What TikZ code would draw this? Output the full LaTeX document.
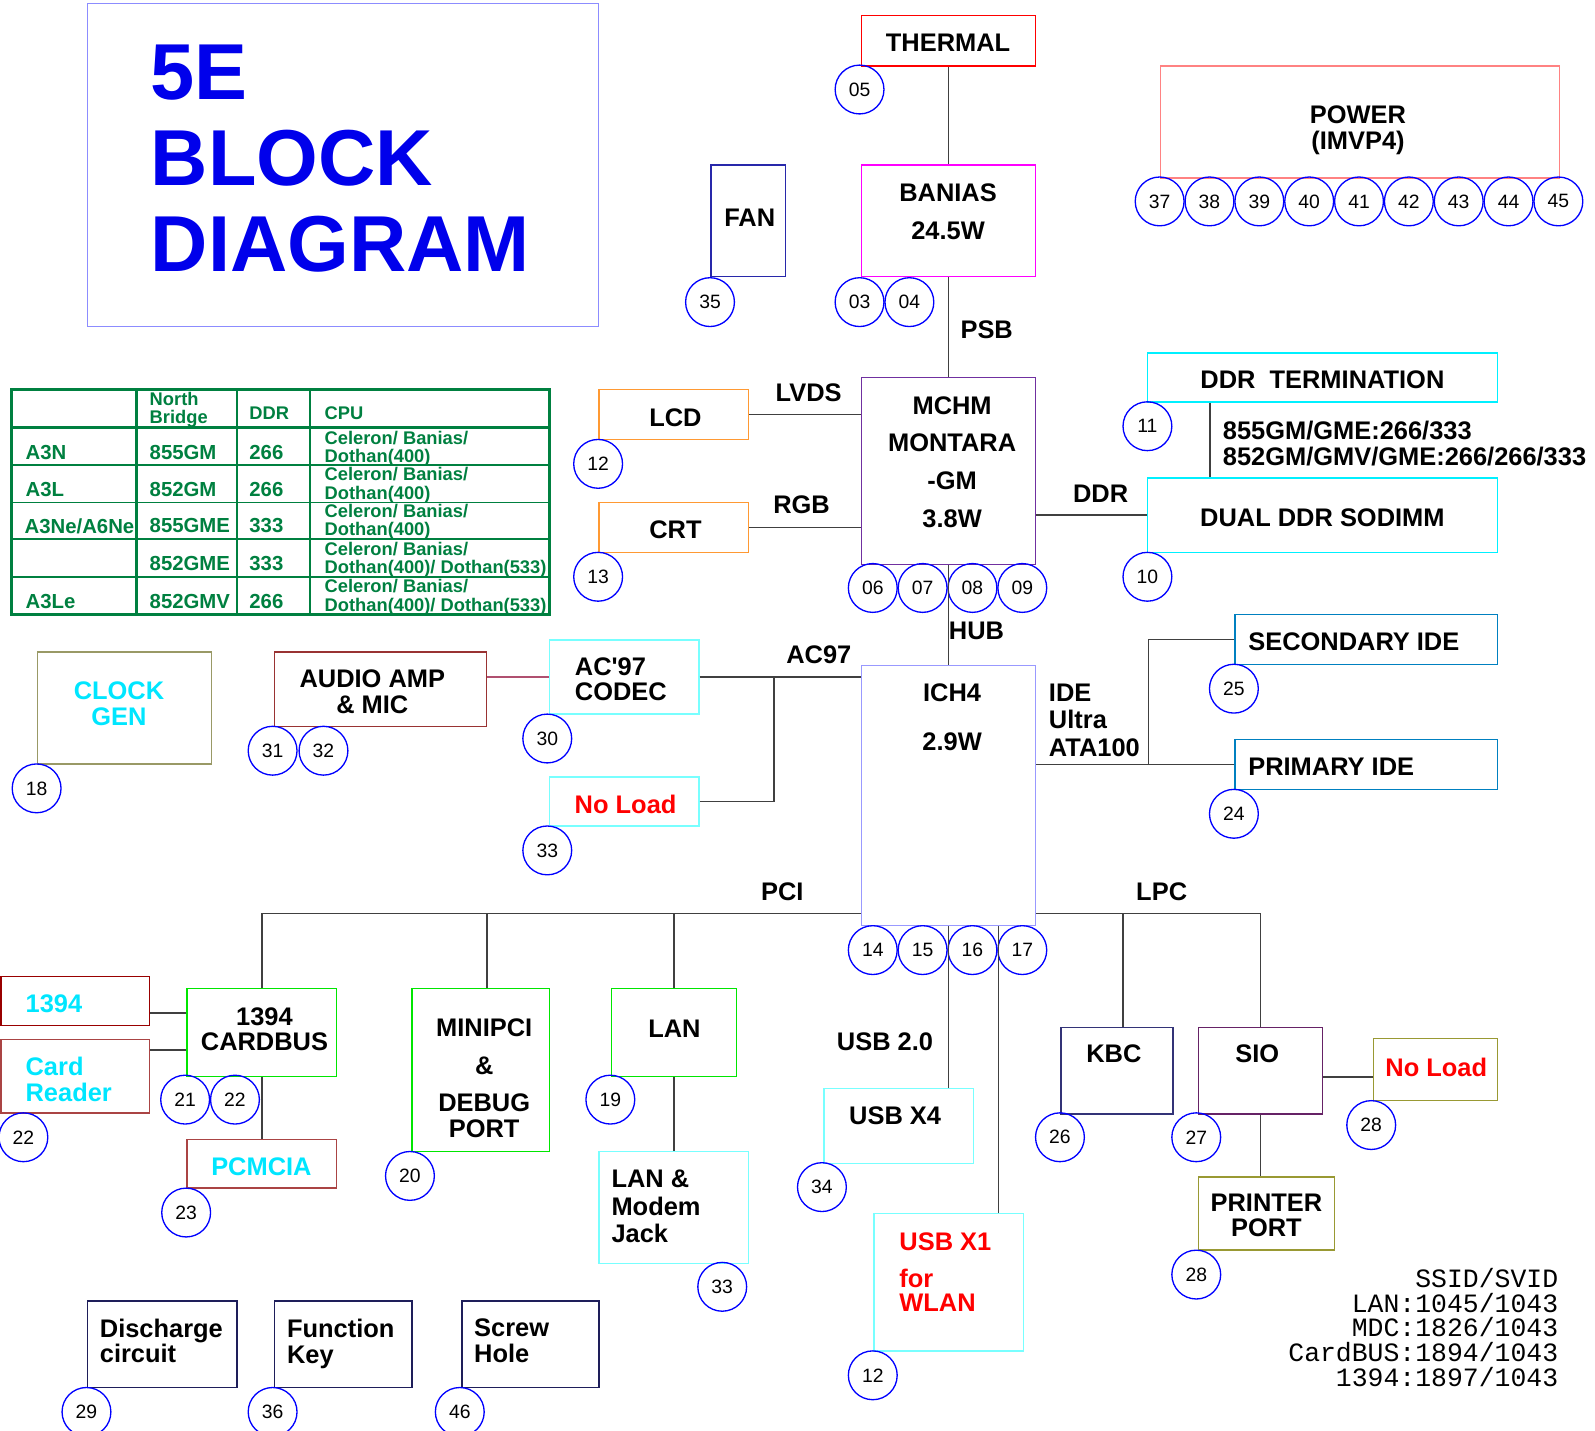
\documentclass[tikz,border=0pt]{standalone}
\usepackage{fontspec}
\setmainfont{Liberation Sans}
\setmonofont{Liberation Mono}
\usetikzlibrary{fit}

\definecolor{ttlblue}{RGB}{0,0,235}
\definecolor{ttlframe}{RGB}{140,140,255}
\definecolor{pgblue}{RGB}{0,0,255}
\definecolor{wiregray}{RGB}{64,64,64}
\definecolor{tabgreen}{RGB}{0,128,64}
\definecolor{thermred}{RGB}{255,0,0}
\definecolor{baniasmag}{RGB}{255,0,255}
\definecolor{fanblue}{RGB}{40,40,170}
\definecolor{powerpink}{RGB}{255,130,130}
\definecolor{vidorange}{RGB}{255,153,51}
\definecolor{mchpurple}{RGB}{112,48,160}
\definecolor{ddrcyan}{RGB}{0,240,255}
\definecolor{lightcyan}{RGB}{120,255,255}
\definecolor{ideblue}{RGB}{0,128,192}
\definecolor{ichlav}{RGB}{153,153,255}
\definecolor{clkolive}{RGB}{153,153,102}
\definecolor{audred}{RGB}{153,51,51}
\definecolor{audwire}{RGB}{176,80,112}
\definecolor{darkred}{RGB}{153,0,0}
\definecolor{rustred}{RGB}{170,68,68}
\definecolor{pcigreen}{RGB}{0,230,0}
\definecolor{kbcnavy}{RGB}{51,51,119}
\definecolor{siopurple}{RGB}{102,34,102}
\definecolor{nlolive}{RGB}{153,153,51}
\definecolor{navybox}{RGB}{30,30,90}
\definecolor{txtcyan}{RGB}{0,230,255}
\definecolor{txtred}{RGB}{255,0,0}

\tikzset{
  blk/.style={draw=#1, line width=1.4pt, inner sep=0pt},
  pg/.style={circle, draw=pgblue, line width=1.3pt, minimum size=48pt, inner sep=0pt, font=\fontsize{19}{19}\selectfont},
  lbl/.style={inner sep=0pt, align=center, font=\bfseries\fontsize{25}{#1}\selectfont},
  lbl/.default=25,
  wire/.style={draw=wiregray, line width=1.5pt},
  tab/.style={inner sep=0pt, anchor=west, align=left, text=tabgreen, font=\bfseries\fontsize{20}{20}\selectfont},
  cpu/.style={tab, font=\bfseries\fontsize{18}{18}\selectfont},
}

\begin{document}
\begin{tikzpicture}[x=1pt,y=-1pt]
\useasboundingbox (0,0) rectangle (1568,1406);

% title
\node[blk=ttlframe, line width=1pt, fit={(86,3) (588,321)}] (title) {};
\node[inner sep=0pt, anchor=west, align=left, text=ttlblue, font=\bfseries\fontsize{78}{84.5}\selectfont] (t-title) at (148,156) {5E\\BLOCK\\DIAGRAM};

% cpu
\node[blk=thermred, fit={(847,15) (1018,65)}] (thermal) {};
\node[lbl] (t-thermal) at (932,42) {THERMAL};
\node[pg] (p05) at (845,88) {05};
\node[blk=baniasmag, fit={(847,162) (1018,272)}] (banias) {};
\node[lbl=37] (t-banias) at (932,208) {BANIAS\\24.5W};
\node[pg] (p03) at (845,297) {03};
\node[pg] (p04) at (894,297) {04};
\node[blk=fanblue, fit={(699,162) (772,272)}] (fan) {};
\node[lbl] (t-fan) at (737,214) {FAN};
\node[pg] (p35) at (698,297) {35};
\node[lbl] (t-psb) at (970,324) {PSB};

% power
\node[blk=powerpink, fit={(1141,65) (1533,175)}] (power) {};
\node[lbl] (t-power) at (1335,128) {POWER\\(IMVP4)};
\node[pg] (p37) at (1140,198) {37};
\node[pg] (p38) at (1189,198) {38};
\node[pg] (p39) at (1238,198) {39};
\node[pg] (p40) at (1287,198) {40};
\node[pg] (p41) at (1336,198) {41};
\node[pg] (p42) at (1385,198) {42};
\node[pg] (p43) at (1434,198) {43};
\node[pg] (p44) at (1483,198) {44};
\node[pg] (p45) at (1532,198) {45};

% model table
\draw[draw=tabgreen, line width=3pt] (11,383) rectangle (540,604);
\draw[draw=tabgreen, line width=3pt] (11,420) -- (540,420) (134,383) -- (134,604);
\draw[draw=tabgreen, line width=1.5pt] (233,383) -- (233,604) (305,383) -- (305,604)
  (11,457) -- (540,457) (11,494) -- (540,494) (11,530) -- (540,530) (11,567) -- (540,567);
\node[cpu] (h-nb) at (147,403) {North\\Bridge};
\node[cpu] (h-ddr) at (245,406) {DDR};
\node[cpu] (h-cpu) at (319,406) {CPU};
\node[tab] (r1a) at (25,445) {A3N};
\node[tab] (r1b) at (147,445) {855GM};
\node[tab] (r1c) at (245,445) {266};
\node[cpu] (r1d) at (319,441) {Celeron/ Banias/\\Dothan(400)};
\node[tab] (r2a) at (25,481) {A3L};
\node[tab] (r2b) at (147,481) {852GM};
\node[tab] (r2c) at (245,481) {266};
\node[cpu] (r2d) at (319,477) {Celeron/ Banias/\\Dothan(400)};
\node[tab] (r3a) at (24,517) {A3Ne/A6Ne};
\node[tab] (r3b) at (147,517) {855GME};
\node[tab] (r3c) at (245,517) {333};
\node[cpu] (r3d) at (319,513) {Celeron/ Banias/\\Dothan(400)};
\node[tab] (r4b) at (147,554) {852GME};
\node[tab] (r4c) at (245,554) {333};
\node[cpu] (r4d) at (319,550) {Celeron/ Banias/\\Dothan(400)/ Dothan(533)};
\node[tab] (r5a) at (25,591) {A3Le};
\node[tab] (r5b) at (147,591) {852GMV};
\node[tab] (r5c) at (245,591) {266};
\node[cpu] (r5d) at (319,587) {Celeron/ Banias/\\Dothan(400)/ Dothan(533)};

% north bridge
\node[blk=vidorange, fit={(589,383) (736,432)}] (lcd) {};
\node[lbl] (t-lcd) at (664,411) {LCD};
\node[pg] (p12) at (588,456) {12};
\node[blk=vidorange, fit={(589,494) (736,543)}] (crt) {};
\node[lbl] (t-crt) at (664,521) {CRT};
\node[pg] (p13) at (588,567) {13};
\node[lbl] (t-lvds) at (795,386) {LVDS};
\node[lbl] (t-rgb) at (788,496) {RGB};
\node[blk=mchpurple, fit={(847,371) (1018,555)}] (mchm) {};
\node[lbl=37] (t-mchm) at (936,454) {MCHM\\MONTARA\\-GM\\3.8W};
\node[pg] (p06) at (858,578) {06};
\node[pg] (p07) at (907,578) {07};
\node[pg] (p08) at (956,578) {08};
\node[pg] (p09) at (1005,578) {09};
\node[lbl] (t-hub) at (960,620) {HUB};
\node[lbl] (t-ddr) at (1082,485) {DDR};

% memory
\node[blk=ddrcyan, fit={(1128,347) (1472,395)}] (ddrterm) {};
\node[lbl] (t-ddrterm) at (1300,373) {DDR\ \ TERMINATION};
\node[pg] (p11) at (1128,419) {11};
\node[lbl, align=left, anchor=west] (t-speed) at (1202,436) {855GM/GME:266/333\\852GM/GMV/GME:266/266/333};
\node[blk=ddrcyan, fit={(1128,470) (1472,543)}] (sodimm) {};
\node[lbl] (t-sodimm) at (1300,509) {DUAL DDR SODIMM};
\node[pg] (p10) at (1128,567) {10};

% clock and audio
\node[blk=clkolive, fit={(37,641) (208,751)}] (clock) {};
\node[lbl, text=txtcyan] (t-clock) at (117,692) {CLOCK\\GEN};
\node[pg] (p18) at (36,775) {18};
\node[blk=audred, fit={(270,641) (478,714)}] (audio) {};
\node[lbl] (t-audio) at (366,680) {AUDIO AMP\\\& MIC};
\node[pg] (p31) at (268,738) {31};
\node[pg] (p32) at (318,738) {32};
\node[blk=lightcyan, fit={(540,629) (687,702)}] (codec) {};
\node[lbl, align=left, anchor=west] (t-codec) at (565,668) {AC\textquotesingle97\\CODEC};
\node[pg] (p30) at (538,726) {30};
\node[blk=lightcyan, fit={(540,764) (687,812)}] (noload1) {};
\node[lbl, text=txtred] (t-noload1) at (615,791) {No Load};
\node[pg] (p33) at (538,836) {33};
\node[lbl] (t-ac97) at (805,644) {AC97};

% south bridge
\node[blk=ichlav, fit={(847,654) (1018,910)}] (ich4) {};
\node[lbl=48] (t-ich4) at (936,705) {ICH4\\2.9W};
\node[pg] (p14) at (858,934) {14};
\node[pg] (p15) at (907,934) {15};
\node[pg] (p16) at (956,934) {16};
\node[pg] (p17) at (1005,934) {17};
\node[lbl=27, align=left, anchor=west] (t-ide) at (1031,708) {IDE\\Ultra\\ATA100};
\node[blk=ideblue, fit={(1214,604) (1472,653)}] (secondary) {};
\node[lbl, anchor=west] (t-secondary) at (1227,631) {SECONDARY IDE};
\node[pg] (p25) at (1213,677) {25};
\node[blk=ideblue, fit={(1214,727) (1472,776)}] (primary) {};
\node[lbl, anchor=west] (t-primary) at (1227,754) {PRIMARY IDE};
\node[pg] (p24) at (1213,800) {24};
\node[lbl] (t-pci) at (769,877) {PCI};
\node[lbl] (t-lpc) at (1142,877) {LPC};
\node[lbl] (t-usb) at (870,1024) {USB 2.0};

% pci devices
\node[blk=darkred, fit={(1,960) (147,1008)}] (ieee) {};
\node[lbl, text=txtcyan, anchor=west] (t-ieee) at (25,987) {1394};
\node[blk=rustred, fit={(1,1022) (147,1094)}] (cardrd) {};
\node[lbl, text=txtcyan, align=left, anchor=west] (t-cardrd) at (25,1061) {Card\\Reader};
\node[pg] (p22b) at (23,1118) {22};
\node[blk=pcigreen, fit={(184,972) (331,1058)}] (cardbus) {};
\node[lbl=24] (t-cardbus) at (260,1012) {1394\\CARDBUS};
\node[pg] (p21) at (182,1081) {21};
\node[pg] (p22) at (231,1081) {22};
\node[blk=rustred, fit={(184,1120) (331,1168)}] (pcmcia) {};
\node[lbl, text=txtcyan] (t-pcmcia) at (257,1147) {PCMCIA};
\node[pg] (p23) at (183,1192) {23};
\node[blk=pcigreen, fit={(405,972) (540,1132)}] (minipci) {};
\node[lbl] (t-minipci) at (476,1060) {MINIPCI\\[12pt]\&\\[12pt]DEBUG\\PORT};
\node[pg] (p20) at (403,1156) {20};
\node[blk=pcigreen, fit={(601,972) (724,1058)}] (lan) {};
\node[lbl] (t-lan) at (663,1011) {LAN};
\node[pg] (p19) at (600,1081) {19};
\node[blk=lightcyan, fit={(589,1132) (736,1242)}] (lanjack) {};
\node[lbl=27, align=left, anchor=west] (t-lanjack) at (601,1186) {LAN \&\\Modem\\Jack};
\node[pg] (p33b) at (710,1265) {33};

% usb
\node[blk=lightcyan, fit={(810,1070) (957,1144)}] (usbx4) {};
\node[lbl] (t-usbx4) at (880,1097) {USB X4};
\node[pg] (p34) at (808,1167) {34};
\node[blk=lightcyan, fit={(859,1193) (1006,1328)}] (usbx1) {};
\node[lbl=24, align=left, anchor=west, text=txtred] (t-usbx1) at (884,1251) {USB X1\\[12pt]for\\WLAN};
\node[pg] (p12b) at (858,1352) {12};

% lpc devices
\node[blk=kbcnavy, fit={(1043,1010) (1153,1095)}] (kbc) {};
\node[lbl] (t-kbc) at (1095,1036) {KBC};
\node[pg] (p26) at (1042,1118) {26};
\node[blk=siopurple, fit={(1178,1010) (1300,1095)}] (sio) {};
\node[lbl] (t-sio) at (1236,1036) {SIO};
\node[pg] (p27) at (1176,1118) {27};
\node[blk=nlolive, fit={(1350,1021) (1472,1082)}] (noload2) {};
\node[lbl, text=txtred] (t-noload2) at (1412,1049) {No Load};
\node[pg] (p28) at (1348,1106) {28};
\node[blk=nlolive, fit={(1178,1157) (1312,1229)}] (printer) {};
\node[lbl] (t-printer) at (1245,1195) {PRINTER\\PORT};
\node[pg] (p28b) at (1176,1253) {28};

% misc
\node[blk=navybox, fit={(86,1279) (233,1364)}] (discharge) {};
\node[lbl, align=left, anchor=west] (t-discharge) at (98,1318) {Discharge\\circuit};
\node[pg] (p29) at (85,1388) {29};
\node[blk=navybox, fit={(270,1279) (405,1364)}] (fnkey) {};
\node[lbl, align=left, anchor=west] (t-fnkey) at (282,1321) {Function\\Key};
\node[pg] (p36) at (268,1388) {36};
\node[blk=navybox, fit={(454,1279) (589,1364)}] (screw) {};
\node[lbl, align=left, anchor=west] (t-screw) at (466,1318) {Screw\\Hole};
\node[pg] (p46) at (452,1388) {46};
\node[inner sep=0pt, anchor=east, align=right, font=\ttfamily\fontsize{26}{24.5}\selectfont] (ssid) at (1532,1305)
  {SSID/SVID\\LAN:1045/1043\\MDC:1826/1043\\CardBUS:1894/1043\\1394:1897/1043};

% connectors
\draw[wire] (thermal) -- (banias);
\draw[wire] (banias) -- (mchm);
\draw[wire] (lcd.east) -- (lcd.east -| mchm.west);
\draw[wire] (crt.east) -- (crt.east -| mchm.west);
\draw[wire] (mchm) -- (ich4);
\draw[wire] (sodimm.west) -- (sodimm.west -| mchm.east);
\draw[wire] ([xshift=62pt]ddrterm.south west) -- ([xshift=62pt]ddrterm.south west |- sodimm.north);
\draw[draw=audwire, line width=1.5pt] (codec.west) -- (codec.west -| audio.east);
\draw[wire] (codec.east) -- (codec.east -| ich4.west);
\coordinate (acj) at (761,665.5);
\draw[wire] (noload1.east) -| (acj);
\draw[wire] (primary.west) -- (primary.west -| ich4.east);
\coordinate (idej) at (1129,751.5);
\draw[wire] (secondary.west) -| (idej);
\coordinate (pci) at (257.5,898);
\draw[wire] (pci) -- (pci -| ich4.west);
\draw[wire] (cardbus) -- (pci);
\draw[wire] ([xshift=6pt]minipci.north) -- ([xshift=6pt]minipci.north |- pci);
\draw[wire] (lan.north) -- (lan.north |- pci);
\coordinate (lpc) at (1239,898);
\draw[wire] (sio.north) |- (ich4.east |- lpc);
\draw[wire] ([xshift=6pt]kbc.north) -- ([xshift=6pt]kbc.north |- lpc);
\draw[wire] (ich4.south) -- (ich4.south |- usbx4.north);
\draw[wire] ([xshift=49pt]ich4.south) -- ([xshift=49pt]ich4.south |- usbx1.north);
\draw[wire] (cardbus) -- (pcmcia);
\draw[wire] ([yshift=-12pt]ieee.east) -- ([yshift=-12pt]ieee.east -| cardbus.west);
\draw[wire] ([yshift=-11pt]cardrd.north east) -- ([yshift=-11pt]cardrd.north east -| cardbus.west);
\draw[wire] (lan) -- (lanjack);
\draw[wire] ([yshift=-6pt]sio.east) -- ([yshift=-6pt]sio.east -| noload2.west);
\draw[wire] (sio.south) -- (sio.south |- printer.north);
\end{tikzpicture}
\end{document}
